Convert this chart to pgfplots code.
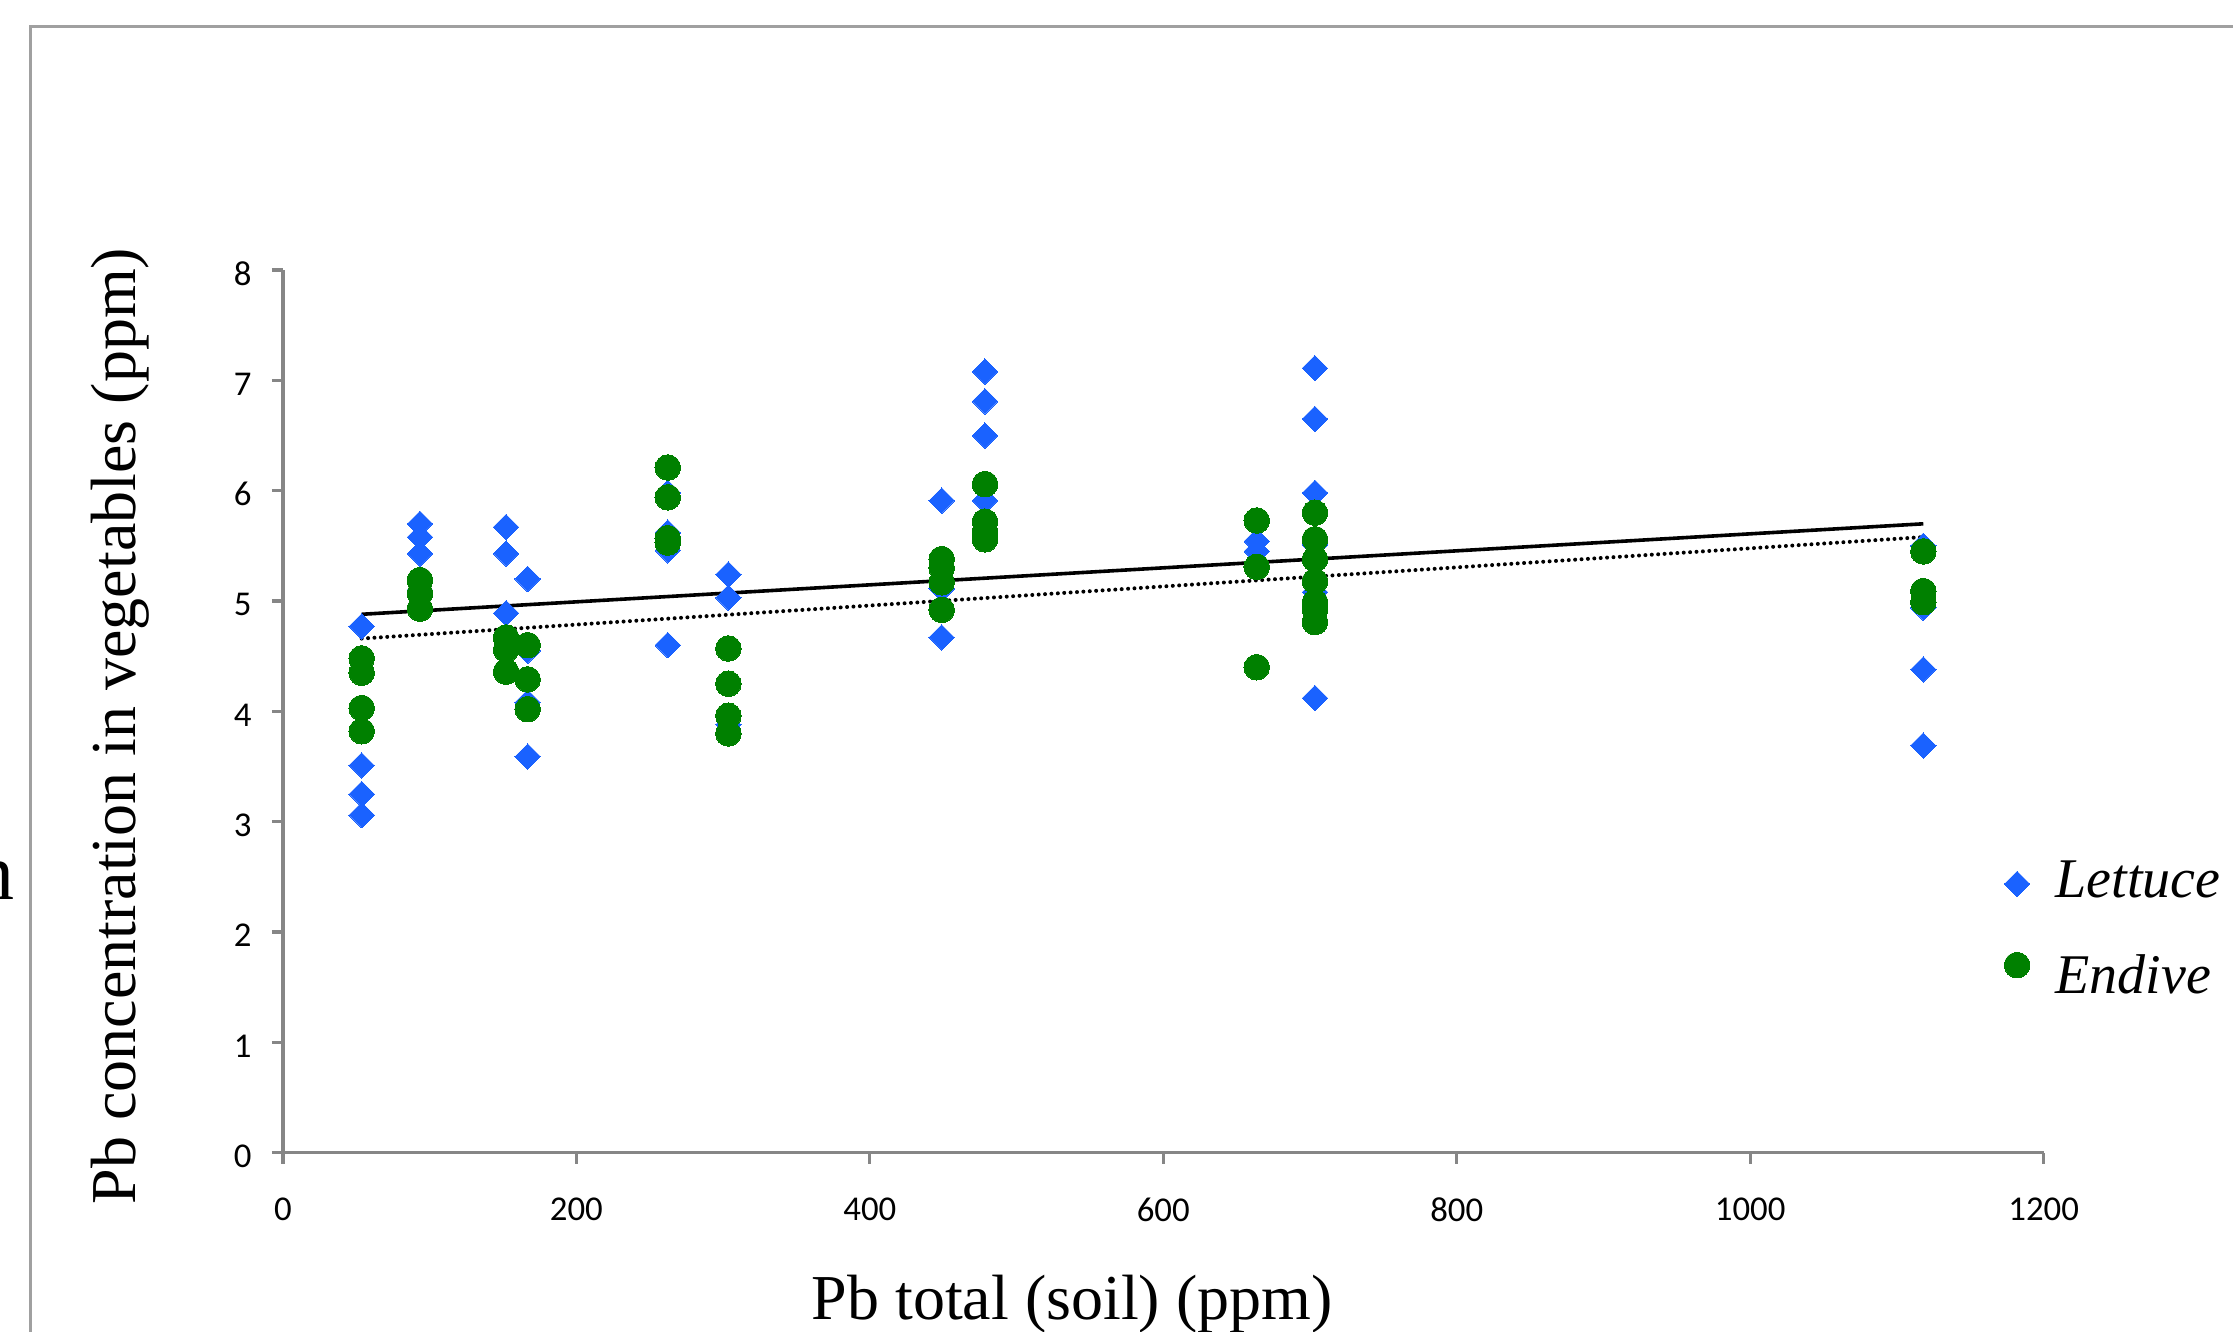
\documentclass[border=0pt]{standalone}
\usepackage{pgfplots}
\pgfplotsset{compat=1.18}
\usepackage{fontspec}
\setmainfont{Liberation Serif}
\newfontfamily\carlito{Carlito}
\definecolor{lettuceblue}{RGB}{26,98,255}
\definecolor{endivegreen}{RGB}{0,128,0}
\definecolor{axisgray}{RGB}{134,134,134}
\definecolor{framegray}{RGB}{160,160,160}
\pgfplotsset{
  lettucelegend/.style={legend image code/.code={\draw[##1] plot coordinates {(0pt,3.4pt)};}},
  endivelegend/.style={legend image code/.code={\draw[##1] plot coordinates {(0pt,7.2pt)};}},
}

\begin{document}
\begin{tikzpicture}
\path[use as bounding box] (0,0) rectangle (558.25pt,332.75pt);
\draw[framegray, line width=0.9pt] (7.6pt,-5pt) -- (7.6pt,326.1pt) -- (565pt,326.1pt);
\node[anchor=base east, inner sep=0pt, font=\fontsize{20}{24}\selectfont] at (3.9pt,108pt) {n};
\begin{axis}[
  at={(70.725pt,44.575pt)}, anchor=south west,
  scale only axis, width=440.175pt, height=220.675pt,
  xmin=0, xmax=1200, ymin=0, ymax=8,
  axis lines*=left,
  axis line style={draw=axisgray, line width=0.8pt, -},
  tick align=outside,
  major tick length=2.75pt,
  tick style={draw=axisgray, line width=0.8pt},
  xtick={0,200,...,1200}, ytick={0,1,...,8},
  /pgf/number format/assume math mode=true,
  /pgf/number format/1000 sep={},
  ticklabel style={font=\carlito\fontsize{8.7}{10}\selectfont, text=black},
  xticklabel style={anchor=north, inner sep=0pt, yshift=-8.4pt},
  yticklabel style={anchor=east, inner sep=0pt, xshift=-4.9pt, yshift=-0.9pt},
  xlabel={Pb total (soil) (ppm)},
  ylabel={Pb concentration in vegetables (ppm)},
  every axis x label/.style={at={(axis description cs:0.4483,-0.1894)}, anchor=base, font=\fontsize{16}{19}\selectfont},
  every axis y label/.style={at={(axis description cs:-0.084,0.4834)}, rotate=90, anchor=base, font=\fontsize{16}{19}\selectfont},
  legend style={at={(axis description cs:0.9772,0.3316)}, anchor=north west, draw=none, fill=none, inner sep=0pt, column sep=6.4pt, row sep=12.2pt, font=\itshape\fontsize{14}{17}\selectfont, nodes={inner sep=0pt}, cells={anchor=base west}},
]
% Lettuce
\addplot[only marks, color=lettuceblue, mark=square*, mark size=2.25pt, mark options={solid, rotate=45, fill=lettuceblue, draw=lettuceblue, line width=0pt}, lettucelegend]
coordinates {
 (53.7,4.77) (53.7,3.51) (53.7,3.25) (53.7,3.06)
 (93.4,5.70) (93.4,5.58) (93.4,5.43) (93.4,5.10)
 (152.1,5.67) (152.1,5.43) (152.1,4.89)
 (166.8,5.20) (166.8,3.59) (166.8,4.55) (166.8,4.08)
 (262.3,5.98) (262.3,5.62) (262.3,5.46) (262.3,4.60)
 (303.6,5.24) (303.6,5.03) (303.6,3.88)
 (449.0,5.91) (449.0,4.67) (449.0,5.11)
 (478.5,7.08) (478.5,6.81) (478.5,6.50) (478.5,5.91)
 (663.7,5.54) (663.7,5.45)
 (703.4,7.11) (703.4,6.65) (703.4,5.98) (703.4,4.12) (703.4,5.51) (703.4,5.35) (703.4,5.08)
 (1118.0,5.50) (1118.0,4.94) (1118.0,4.38) (1118.0,3.69)
};
\addlegendentry{Lettuce}
% Endive
\addplot[only marks, color=endivegreen, mark=*, mark size=3.2pt, mark options={solid, fill=endivegreen, draw=endivegreen, line width=0pt}, endivelegend]
coordinates {
 (53.7,4.48) (53.7,4.35) (53.7,4.03) (53.7,3.82)
 (93.4,5.19) (93.4,5.07) (93.4,4.93)
 (152.1,4.67) (152.1,4.56) (152.1,4.36)
 (166.8,4.60) (166.8,4.29) (166.8,4.02)
 (262.3,6.21) (262.3,5.94) (262.3,5.57) (262.3,5.53)
 (303.6,4.57) (303.6,4.25) (303.6,3.96) (303.6,3.80)
 (449.0,5.38) (449.0,5.30) (449.0,5.17) (449.0,4.92)
 (478.5,6.06) (478.5,5.72) (478.5,5.63) (478.5,5.56)
 (663.7,5.73) (663.7,5.31) (663.7,4.40)
 (703.4,5.80) (703.4,5.56) (703.4,5.38) (703.4,5.18) (703.4,4.99) (703.4,4.92) (703.4,4.81)
 (1118.0,5.45) (1118.0,5.09) (1118.0,4.99)
};
\addlegendentry{Endive}
% trend lines
\addplot[black, line width=0.9pt, forget plot] coordinates {(53.7,4.88) (1118,5.70)};
\addplot[black, line width=1pt, dash pattern=on 0pt off 1.6pt, line cap=round, forget plot] coordinates {(53.7,4.66) (1118,5.58)};
\end{axis}
\end{tikzpicture}
\end{document}
